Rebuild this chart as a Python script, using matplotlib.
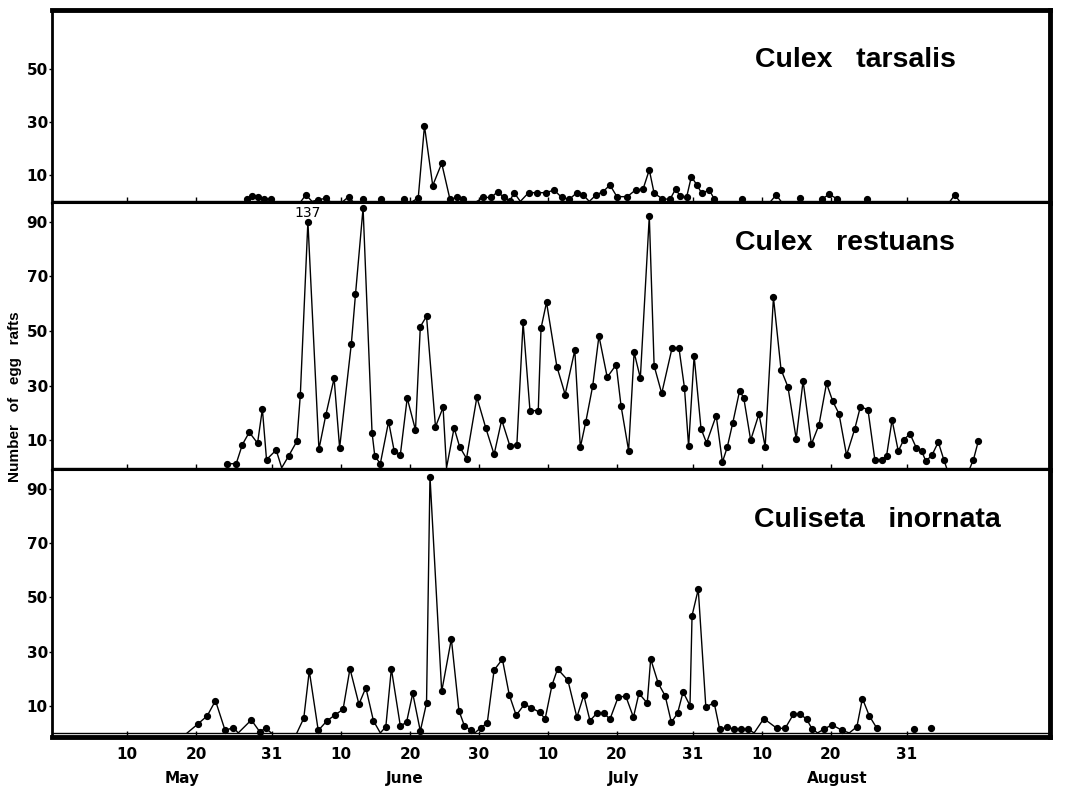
import numpy as np
import matplotlib.pyplot as plt

nan = np.nan

# x = day of the year (10 May = 130), y = egg rafts per day; nan = no reading
tars_day = [147.3, 148.1, 148.9, 149.8, 150.9, nan,
            155.2, 155.9, 156.8, 157.7, 158.8, 159.4, nan,
            161.3, 162.1, 162.7, nan, 164.2, nan, 166.8, nan, 170.2, nan,
            171.4, 172.2, 173.1, 174.3, 175.6, 176.8, 177.8, 178.7, nan,
            180.7, 181.6, 182.8, 183.7, 184.6, 185.5, 186.1, 187.0, 188.2, 189.4,
            190.7, 191.9, 193.0, 194.1, 195.2, 196.1, 197.0, 198.0, 199.0, 200.0,
            201.0, 202.5, 203.7, 204.8, 205.7, 206.4, 207.6, 208.7, 209.5, 210.2,
            211.1, 211.8, 212.6, 213.3, 214.4, 215.1, nan,
            219.2, nan, 223.3, 224.1, 224.8, nan, 227.5, nan,
            230.8, 231.8, 232.9, nan, 237.2, nan, 249.3, 250.0, 250.7]
tars_n = [0.8, 2, 1.8, 1, 0.8, nan,
          0, 2.5, 0, 0.6, 1.2, 0, nan,
          0, 1.8, 0, nan, 0.8, nan, 0.8, nan, 0.8, nan,
          0, 1.4, 28.5, 6, 14.4, 0.8, 1.5, 0.8, nan,
          0, 1.5, 1.5, 3.7, 1.5, 0.3, 3.3, 0, 3.3, 3.3,
          3.3, 4.3, 1.5, 0.8, 3.3, 2.5, 0, 2.5, 3.7, 6.2,
          1.8, 1.8, 4.3, 4.7, 11.9, 3.1, 1, 0.8, 4.6, 2,
          1.5, 9.4, 6.2, 3.1, 4.3, 1, nan,
          0.8, nan, 0, 2.5, 0, nan, 1.2, nan,
          1, 2.7, 1, nan, 1, nan, 0, 2.5, 0]

rest_day = [144.4, 145.8, 146.7, 147.7, 148.9, 149.6, 150.2, 151.6, 152.4, 153.4,
            154.6, 155.1, 156.2, 157.8, 158.8, 160.0, 160.8, 162.5, 163.1, 164.2,
            165.5, 165.9, 166.7, 167.9, 168.7, 169.6, 170.6, 171.8, 172.5, 173.4,
            174.7, 175.8, 176.3, 177.4, 178.2, 179.2, 180.7, 182.0, 183.2, 184.3,
            185.5, 186.5, 187.4, 188.4, 189.6, 190.0, 190.8, 192.3, 193.5, 194.9,
            195.7, 196.5, 197.5, 198.4, 199.6, 200.9, 201.6, 202.7, 203.5, 204.4,
            205.7, 206.4, 207.5, 209.0, 210.0, 210.8, 211.4, 212.2, 213.2, 214.0,
            215.4, 216.3, 217.0, 217.8, 218.8, 219.4, 220.4, 221.6, 222.5, 223.7,
            224.8, 225.8, 227.0, 228.0, 229.2, 230.3, 231.4, 232.3, 233.2, 234.3,
            235.5, 236.3, 237.4, 238.4, 239.4, 240.1, 240.9, 241.8, 242.6, 243.5,
            244.4, 245.2, 245.8, 246.7, 247.6, 248.4, 248.8, nan,
            252.2, 252.7, 253.4]
rest_n = [1.5, 1.5, 8.5, 13, 9, 21.5, 3, 6.5, 0, 4.3,
          9.7, 26.6, 137, 6.8, 19.3, 32.7, 7.3, 45.4, 63.4, 95,
          12.9, 4.3, 1.5, 16.9, 6.3, 4.7, 25.5, 13.8, 51.6, 55.4,
          15, 22.1, 0, 14.6, 7.7, 3.4, 25.8, 14.5, 4.9, 17.5,
          7.9, 8.5, 53.2, 20.9, 20.9, 51, 60.5, 37, 26.8, 43,
          7.5, 16.9, 30, 48.2, 33.1, 37.7, 22.7, 6.3, 42.2, 32.8,
          92, 37.3, 27.2, 43.8, 43.8, 29.2, 7.9, 40.9, 14.3, 9.1,
          19.1, 2.1, 7.5, 16.4, 28.2, 25.5, 10.1, 19.7, 7.7, 62.3,
          35.9, 29.6, 10.6, 31.8, 8.6, 15.7, 30.9, 24.3, 19.8, 4.6,
          14.3, 22.3, 21.3, 3, 3, 4.3, 17.5, 6.1, 10.3, 12.4,
          7.4, 6.1, 2.4, 4.7, 9.4, 3, 0, nan,
          0, 3, 9.7]

inor_day = [138.7, 140.2, 141.6, 142.8, 144.2, 145.4, 146.1, 148.0, 149.2, 150.1,
            150.9, nan,
            154.6, 155.6, 156.4, 157.7, 158.9, 160.1, 161.3, 162.3, 163.6, 164.6,
            165.7, 166.7, 167.5, 168.3, 169.6, 170.5, 171.4, 172.5, 173.4, 173.9,
            175.6, 177.0, 178.1, 178.9, 179.8, 180.4, 181.3, 182.2, 183.2, 184.4,
            185.4, 186.4, 187.6, 188.6, 189.8, 190.6, 191.6, 192.4, 193.9, 195.2,
            196.2, 197.1, 198.1, 199.1, 200.0, 201.2, 202.3, 203.4, 204.2, 205.4,
            205.9, 207.0, 208.0, 208.9, 209.8, 210.6, 211.6, 211.9, 212.8, 213.9,
            215.1, 215.9, 217.0, 218.0, 219.0, 220.0, 220.9, 222.3, 224.2, 225.4,
            226.6, 227.6, 228.5, 229.3, 230.1, 231.0, 232.2, 233.6, 234.7, 235.8,
            236.6, 237.6, 238.7, nan, 244.1, nan, 246.5]
inor_n = [0, 3.2, 6.3, 11.9, 0.9, 2, 0, 4.8, 0.5, 1.7,
          0, nan,
          0, 5.4, 22.9, 0.9, 4.3, 6.6, 8.7, 23.7, 10.6, 16.7,
          4.5, 0, 2.3, 23.7, 2.6, 3.9, 14.6, 0.7, 11, 94.6,
          15.3, 34.7, 8.2, 2.6, 1.1, 0, 2, 3.6, 23.2, 27.2,
          14, 6.5, 10.6, 9.3, 7.6, 5.2, 17.7, 23.6, 19.4, 5.8,
          13.9, 4.5, 7.3, 7.3, 5.1, 13.3, 13.5, 5.8, 14.6, 11,
          27.3, 18.3, 13.7, 3.9, 7.3, 15.1, 10.1, 43.3, 53, 9.5,
          11.2, 1.4, 2.1, 1.4, 1.4, 1.4, 0, 5.3, 1.7, 1.7,
          6.9, 6.9, 5.1, 1.5, 0, 1.4, 3, 1, 0, 2.3,
          12.7, 6.3, 1.7, nan, 1.5, nan, 1.7]

species = ['Culex   tarsalis', 'Culex   restuans', 'Culiseta   inornata']
ytick_sets = [[10, 30, 50], [10, 30, 50, 70, 90], [10, 30, 50, 70, 90]]
tick_days = [130, 140, 151, 161, 171, 181, 191, 201, 212, 222, 232, 243]
tick_labels = ['10', '20', '31', '10', '20', '30', '10', '20', '31', '10', '20', '31']
months = ['May', 'June', 'July', 'August']
month_days = [138, 170.3, 202, 233]

narrow = ['Liberation Sans Narrow', 'DejaVu Sans']
bold = ['Liberation Sans', 'DejaVu Sans']

fig = plt.figure(figsize=(10.66, 7.89), dpi=100)
boxes = [[0.0488, 0.7427, 0.9362, 0.2446],
         [0.0488, 0.4043, 0.9362, 0.3384],
         [0.0488, 0.0659, 0.9362, 0.3384]]
ylims = [(-0.6, 72.3), (-0.8, 96.8), (-1.5, 97)]
title_pos = [(0.805, 0.74), (0.795, 0.85), (0.827, 0.813)]
series = [(tars_day, tars_n), (rest_day, rest_n), (inor_day, inor_n)]

axes = []
for i in range(3):
    ax = fig.add_axes(boxes[i])
    day = np.array(series[i][0], dtype=float)
    n = np.array(series[i][1], dtype=float)
    # off-scale peak is drawn at 90 and labelled with its real value
    shown = np.where(n > 100, 90, n)
    ax.axhline(0, color='k', lw=1)
    ax.plot(day, shown, '-', color='k', lw=1)
    dots = n > 0.2
    ax.plot(day[dots], shown[dots], 'o', color='k', ms=4.2)
    for d, v in zip(day, n):
        if v > 100:
            ax.annotate('%d' % v, (d, 90), xytext=(0, 6.5), textcoords='offset points',
                        ha='center', va='center', fontsize=10, family=narrow)
    ax.set_xlim(119.1, 263.8)
    ax.set_ylim(*ylims[i])
    ax.set_yticks(ytick_sets[i])
    ax.set_yticklabels([str(t) for t in ytick_sets[i]], family=narrow,
                       fontweight='bold', fontsize=11)
    ax.tick_params(axis='y', direction='out', length=2, width=1, pad=1)
    ax.set_xticks(tick_days)
    ax.tick_params(axis='x', direction='in', length=4, width=1)
    if i < 2:
        ax.set_xticklabels([])
    else:
        ax.set_xticklabels(tick_labels, family=narrow, fontweight='bold', fontsize=11)
        ax.tick_params(axis='x', pad=7)
    ax.text(title_pos[i][0], title_pos[i][1], species[i], transform=ax.transAxes,
            ha='center', va='center', fontsize=20.5, fontweight='bold', family=bold)
    for s in ax.spines.values():
        s.set_linewidth(1.5)
    ax.spines['left'].set_linewidth(2)
    ax.spines['right'].set_linewidth(3.5)
    axes.append(ax)

axes[0].spines['top'].set_linewidth(3.5)
axes[2].spines['bottom'].set_linewidth(3.5)

for m, d in zip(months, month_days):
    axes[2].text(d, -0.155, m, transform=axes[2].get_xaxis_transform(), ha='center',
                 va='center', fontsize=11, fontweight='bold', family=narrow)

fig.text(0.014, 0.497, 'Number   of   egg   rafts', rotation=90, ha='center', va='center',
         fontsize=11, fontweight='bold', family=bold)

plt.savefig('out.png', dpi=100)
